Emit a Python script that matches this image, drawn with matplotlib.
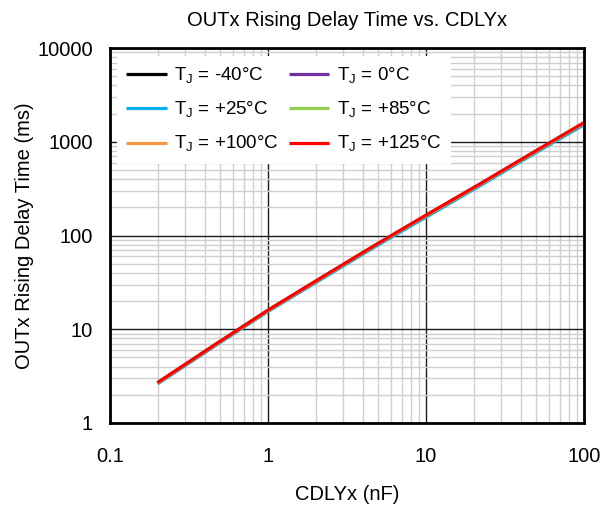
import matplotlib
matplotlib.use("Agg")
import matplotlib.pyplot as plt
from matplotlib.ticker import FixedLocator, NullFormatter, LogLocator

plt.rcParams['font.family'] = ['Liberation Sans', 'DejaVu Sans']

cdly = [0.2, 0.47, 1, 2.2, 4.7, 10, 22, 47, 100]
t_m40 = [2.65, 6.85, 15.7, 35.0, 76.0, 160, 345, 735, 1540]
t_0 = [2.65, 6.85, 15.7, 35.0, 76.0, 160, 346, 738, 1550]
t_25 = [2.62, 6.8, 15.5, 34.6, 75.0, 157, 340, 728, 1520]
t_85 = [2.68, 6.95, 15.9, 35.6, 77.5, 163, 352, 752, 1580]
t_100 = [2.69, 6.97, 15.95, 35.7, 77.8, 164, 354, 756, 1590]
t_125 = [2.7, 7.0, 16.0, 36.0, 78.0, 165, 356, 760, 1600]

series = [
    ("T$_\\mathregular{J}$ = -40°C", t_m40, "#000000"),
    ("T$_\\mathregular{J}$ = 0°C", t_0, "#7030A0"),
    ("T$_\\mathregular{J}$ = +25°C", t_25, "#00B0F0"),
    ("T$_\\mathregular{J}$ = +85°C", t_85, "#92D050"),
    ("T$_\\mathregular{J}$ = +100°C", t_100, "#F79646"),
    ("T$_\\mathregular{J}$ = +125°C", t_125, "#FF0000"),
]

x_ticks = [0.1, 1, 10, 100]
x_ticklabels = ["0.1", "1", "10", "100"]
y_ticks = [1, 10, 100, 1000, 10000]
y_ticklabels = ["1", "10", "100", "1000", "10000"]

fig = plt.figure(figsize=(6.12, 5.12), dpi=100)
ax = fig.add_axes([110/612, 89/512, 474/612, 375/512])

handles = []
for label, vals, color in series:
    h, = ax.plot(cdly, vals, color=color, lw=2.3, label=label, solid_capstyle='butt')
    handles.append(h)

ax.set_xscale('log')
ax.set_yscale('log')
ax.set_xlim(0.1, 100)
ax.set_ylim(1, 10000)

ax.xaxis.set_major_locator(FixedLocator(x_ticks))
ax.set_xticklabels(x_ticklabels)
ax.yaxis.set_major_locator(FixedLocator(y_ticks))
ax.set_yticklabels(y_ticklabels)
ax.xaxis.set_minor_locator(LogLocator(base=10, subs=range(2, 10)))
ax.yaxis.set_minor_locator(LogLocator(base=10, subs=range(2, 10)))
ax.xaxis.set_minor_formatter(NullFormatter())
ax.yaxis.set_minor_formatter(NullFormatter())

ax.grid(which='minor', color='#cfcfcf', lw=1.0)
ax.grid(which='major', color='#1a1a1a', lw=1.0)
ax.set_axisbelow(True)

ax.tick_params(which='both', length=0, labelsize=14.5, colors='black')
ax.tick_params(axis='x', pad=17)
ax.tick_params(axis='y', pad=12.5)
for s in ax.spines.values():
    s.set_color('black')
    s.set_linewidth(2)

ax.set_title("OUTx Rising Delay Time vs. CDLYx", fontsize=14.5, pad=16)
ax.set_xlabel("CDLYx (nF)", fontsize=14.5, labelpad=14)
ax.set_ylabel("OUTx Rising Delay Time (ms)", fontsize=14.5, labelpad=2)

order = [0, 2, 4, 1, 3, 5]
leg = ax.legend([handles[i] for i in order], [series[i][0] for i in order],
                loc='upper left', ncol=2, fontsize=13.5, frameon=True,
                fancybox=False, edgecolor='white', framealpha=1.0,
                handlelength=2.15, handletextpad=0.4, columnspacing=0.55,
                borderpad=0.5, borderaxespad=0.0, labelspacing=0.75,
                bbox_to_anchor=(7/474, 1 - 8/375))
leg.get_frame().set_linewidth(0)

fig.savefig("out.png", dpi=100)
